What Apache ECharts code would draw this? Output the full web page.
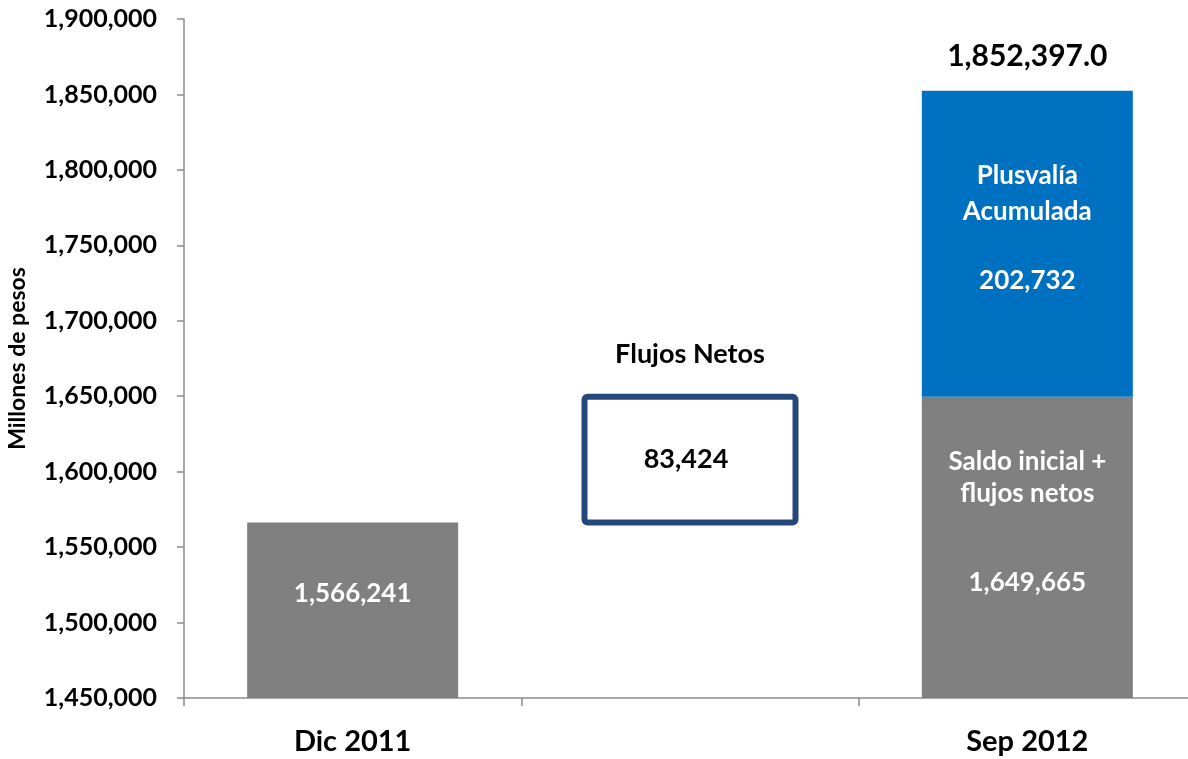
<!DOCTYPE html>
<html>
<head>
<meta charset="utf-8">
<script src="https://cdn.jsdelivr.net/npm/echarts@6/dist/echarts.min.js"></script>
<style>
  html, body { margin: 0; padding: 0; background: #ffffff; }
  #chart { width: 1188px; height: 759px; }
</style>
</head>
<body>
<div id="chart"></div>
<script>
// Categories on the x axis (the middle slot holds the floating net-flow box)
const categories = ['Dic 2011', '', 'Sep 2012'];
// Opening balance and balance after net flows (gray bars)
const saldo = [1566241, null, 1649665];
// Invisible base that lifts the net-flow box to the opening balance
const baseFlujos = [null, 1566241, null];
// Net flows during the period
const flujos = [null, 83424, null];
// Accumulated capital gain
const plusvalia = [null, null, 202732];
// Y axis range and step
const yMin = 1450000, yMax = 1900000, yStep = 50000;

const FONT = 'Lato';
const BAR_W = 211;
const fmt = v => Math.round(v).toLocaleString('en-US');

// Floating box data: [category index, bottom value, top value, net flow]
const boxData = [];
categories.forEach((c, i) => {
  if (flujos[i] != null) boxData.push([i, baseFlujos[i], baseFlujos[i] + flujos[i], flujos[i]]);
});

// Heights of the tops of the stacks, used to place the captions above them
const stackTops = categories.map((c, i) => {
  if (flujos[i] != null) return baseFlujos[i] + flujos[i];
  if (plusvalia[i] != null) return saldo[i] + plusvalia[i];
  return '-';
});

const chart = echarts.init(document.getElementById('chart'), null, { renderer: 'canvas' });

chart.setOption({
  animation: false,
  backgroundColor: '#ffffff',
  textStyle: { fontFamily: FONT },
  grid: { left: 184, top: 19, width: 1012, height: 679, containLabel: false, outerBoundsMode: 'none' },
  xAxis: {
    type: 'category',
    data: categories,
    boundaryGap: true,
    axisLine: { lineStyle: { color: '#8c8c8c', width: 1.5 } },
    axisTick: { show: true, length: 8, alignWithLabel: false, lineStyle: { color: '#8c8c8c', width: 1.5 } },
    axisLabel: { color: '#000', fontFamily: FONT, fontWeight: 'bold', fontSize: 29, margin: 29 },
    splitLine: { show: false }
  },
  yAxis: {
    type: 'value',
    min: yMin,
    max: yMax,
    interval: yStep,
    name: 'Millones de pesos',
    nameLocation: 'middle',
    nameGap: 155,
    nameRotate: 90,
    nameTextStyle: { color: '#000', fontFamily: FONT, fontWeight: 'bold', fontSize: 23 },
    axisLine: { show: true, lineStyle: { color: '#8c8c8c', width: 1.5 } },
    axisTick: { show: true, length: 7, lineStyle: { color: '#8c8c8c', width: 1.5 } },
    axisLabel: { color: '#000', fontFamily: FONT, fontWeight: 'bold', fontSize: 25, margin: 27, formatter: v => fmt(v) },
    splitLine: { show: false }
  },
  series: [
    {
      name: 'Saldo',
      type: 'bar',
      stack: 'total',
      barWidth: BAR_W,
      data: saldo.map(v => v == null ? '-' : v),
      itemStyle: { color: '#808080' },
      label: {
        show: true,
        position: 'inside',
        color: '#fff',
        fontFamily: FONT,
        fontWeight: 'bold',
        fontSize: 26,
        formatter: p => p.dataIndex === 2
          ? '{a|Saldo inicial +}\n{a|flujos netos}\n{s| }\n{a|' + fmt(p.value) + '}'
          : fmt(p.value),
        rich: {
          a: { color: '#fff', fontFamily: FONT, fontWeight: 'bold', fontSize: 26, lineHeight: 32 },
          s: { fontSize: 10, lineHeight: 57 }
        }
      },
      labelLayout: p => ({ dy: p.dataIndex === 2 ? -25 : -17 })
    },
    {
      name: 'Plusvalía Acumulada',
      type: 'bar',
      stack: 'total',
      barWidth: BAR_W,
      data: plusvalia.map(v => v == null ? '-' : v),
      itemStyle: { color: '#0070c0' },
      label: {
        show: true,
        position: 'inside',
        formatter: p => '{a|Plusvalía}\n{a|Acumulada}\n{s| }\n{a|' + fmt(p.value) + '}',
        rich: {
          a: { color: '#fff', fontFamily: FONT, fontWeight: 'bold', fontSize: 26, lineHeight: 36 },
          s: { fontSize: 10, lineHeight: 33 }
        }
      },
      labelLayout: { dy: -16 }
    },
    {
      // Outlined box spanning from the opening balance to balance + net flows
      name: 'Flujos Netos',
      type: 'custom',
      data: boxData,
      encode: { x: 0, y: [1, 2] },
      renderItem: (params, api) => {
        const xi = api.value(0);
        const bottom = api.coord([xi, api.value(1)]);
        const top = api.coord([xi, api.value(2)]);
        return {
          type: 'rect',
          shape: { x: top[0] - BAR_W / 2, y: top[1], width: BAR_W, height: bottom[1] - top[1], r: 3 },
          style: { fill: '#ffffff', stroke: '#24487c', lineWidth: 6 },
          textContent: {
            style: { text: fmt(api.value(3)), fill: '#000', fontFamily: FONT, fontWeight: 'bold', fontSize: 27 }
          },
          textConfig: { position: 'inside', offset: [-4, 0] }
        };
      }
    },
    {
      name: 'Captions',
      type: 'scatter',
      symbolSize: 0,
      itemStyle: { opacity: 1, color: 'rgba(0,0,0,0)' },
      data: stackTops,
      label: {
        show: true,
        position: 'top',
        color: '#000',
        fontFamily: FONT,
        fontWeight: 'bold',
        formatter: p => p.dataIndex === 1
          ? '{f|Flujos Netos}'
          : '{t|' + p.value.toLocaleString('en-US', { minimumFractionDigits: 1, maximumFractionDigits: 1 }) + '}',
        rich: {
          f: { color: '#000', fontFamily: FONT, fontWeight: 'bold', fontSize: 27 },
          t: { color: '#000', fontFamily: FONT, fontWeight: 'bold', fontSize: 30 }
        }
      },
      labelLayout: p => ({ dy: p.dataIndex === 1 ? -24 : -14 })
    }
  ]
});
</script>
</body>
</html>
